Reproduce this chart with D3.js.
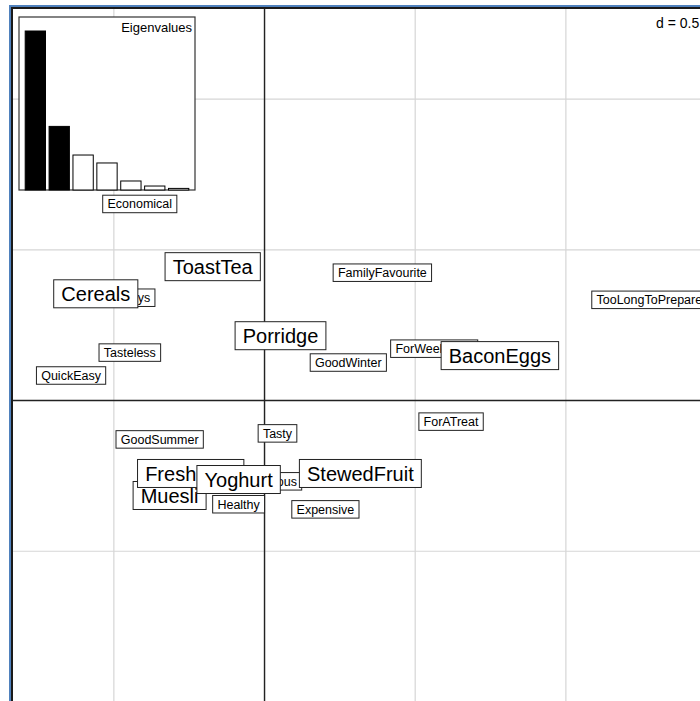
<!DOCTYPE html>
<html>
<head>
<meta charset="utf-8">
<script src="https://cdn.jsdelivr.net/npm/d3@7"></script>
<style>
  body { margin: 0; background: #fff; }
  svg text { font-family: "Liberation Sans", Arial, sans-serif; fill: #000; }
</style>
</head>
<body>
<div id="chart"></div>
<script>
// column (attribute) coordinates, drawn first with small labels
const colNames = ['Economical', 'FamilyFavourite', 'TooLongToPrepare', 'ForWeekdays', 'ForWeekends',
  'Tasteless', 'QuickEasy', 'GoodWinter', 'ForATreat', 'GoodSummer', 'Tasty', 'Nutritious',
  'Healthy', 'Expensive'];
const colX = [-0.414, 0.391, 1.277, -0.507, 0.563, -0.447, -0.642, 0.278, 0.619, -0.348, 0.043, 0.020, -0.086, 0.202];
const colY = [0.652, 0.424, 0.334, 0.341, 0.172, 0.159, 0.083, 0.126, -0.070, -0.129, -0.109, -0.268, -0.344, -0.361];

// row (breakfast) coordinates, drawn on top with large labels
const rowNames = ['ToastTea', 'Cereals', 'Porridge', 'BaconEggs', 'Muesli', 'FreshFruit', 'Yoghurt', 'StewedFruit'];
const rowX = [-0.172, -0.560, 0.053, 0.781, -0.315, -0.245, -0.086, 0.318];
const rowY = [0.444, 0.354, 0.215, 0.149, -0.315, -0.242, -0.262, -0.242];

const eigenvalues = [0.300, 0.120, 0.066, 0.051, 0.017, 0.0075, 0.003];
const gridStep = 0.5;

const width = 700;
const height = 701;

const svg = d3.select('#chart').append('svg')
  .attr('width', width)
  .attr('height', height);

// plot frame runs past the window on the right and bottom
const frame = { left: 12, top: 8, right: 706, bottom: 712 };

const x = d3.scaleLinear()
  .domain([-0.838, 1.465])
  .range([frame.left, frame.right]);

const y = d3.scaleLinear()
  .domain([1.302, -1.0])
  .range([frame.top, frame.top + (x(1.465) - x(-0.838))]);

const [x0, x1] = x.domain();
const [y0, y1] = y.domain();

// grid
const gx = d3.range(Math.ceil(x0 / gridStep) * gridStep, x1, gridStep);
const gy = d3.range(Math.ceil(y1 / gridStep) * gridStep, y0, gridStep);

svg.append('g')
  .selectAll('line')
  .data(gx)
  .join('line')
  .attr('x1', (d) => x(d)).attr('x2', (d) => x(d))
  .attr('y1', frame.top).attr('y2', frame.bottom)
  .attr('stroke', '#d6d6d6')
  .attr('stroke-width', 1.2);

svg.append('g')
  .selectAll('line')
  .data(gy)
  .join('line')
  .attr('y1', (d) => y(d)).attr('y2', (d) => y(d))
  .attr('x1', frame.left).attr('x2', frame.right)
  .attr('stroke', '#d6d6d6')
  .attr('stroke-width', 1.2);

// axes through the origin
svg.append('line')
  .attr('x1', x(0)).attr('x2', x(0))
  .attr('y1', frame.top).attr('y2', frame.bottom)
  .attr('stroke', '#222').attr('stroke-width', 1.4);
svg.append('line')
  .attr('y1', y(0)).attr('y2', y(0))
  .attr('x1', frame.left).attr('x2', frame.right)
  .attr('stroke', '#222').attr('stroke-width', 1.4);

// d = 0.5
svg.append('text')
  .attr('x', 656)
  .attr('y', 28)
  .attr('font-size', 14)
  .text(`d = ${gridStep}`);

function drawLabels(names, xs, ys, fontSize, cls) {
  const g = svg.append('g').attr('class', cls);
  names.forEach((name, i) => {
    const cx = x(xs[i]);
    const cy = y(ys[i]);
    const item = g.append('g');
    const rect = item.append('rect');
    const txt = item.append('text')
      .attr('x', cx)
      .attr('y', cy)
      .attr('text-anchor', 'middle')
      .attr('dy', '0.36em')
      .attr('font-size', fontSize)
      .text(name);
    const w = txt.node().getComputedTextLength() + fontSize * 0.76;
    const h = fontSize * 1.4;
    rect.attr('x', cx - w / 2)
      .attr('y', cy - h / 2)
      .attr('width', w)
      .attr('height', h)
      .attr('fill', '#fff')
      .attr('stroke', '#222')
      .attr('stroke-width', 1);
  });
}

drawLabels(colNames, colX, colY, 12.5, 'col-labels');
drawLabels(rowNames, rowX, rowY, 20, 'row-labels');

// eigenvalue inset
const inset = { left: 19, top: 17, right: 195, bottom: 190 };
svg.append('rect')
  .attr('x', inset.left)
  .attr('y', inset.top)
  .attr('width', inset.right - inset.left)
  .attr('height', inset.bottom - inset.top)
  .attr('fill', '#fff')
  .attr('stroke', '#333')
  .attr('stroke-width', 1.2);

const ex = d3.scaleBand()
  .domain(d3.range(eigenvalues.length))
  .range([inset.left + 5, inset.right - 5])
  .paddingInner(0.15)
  .paddingOuter(0.05);

const ey = d3.scaleLinear()
  .domain([0, d3.max(eigenvalues)])
  .range([inset.bottom, 31]);

svg.append('g')
  .selectAll('rect')
  .data(eigenvalues)
  .join('rect')
  .attr('x', (d, i) => ex(i))
  .attr('y', (d) => ey(d))
  .attr('width', ex.bandwidth())
  .attr('height', (d) => inset.bottom - ey(d))
  .attr('fill', (d, i) => (i < 2 ? '#000' : '#fff'))
  .attr('stroke', '#000')
  .attr('stroke-width', 1);

svg.append('text')
  .attr('x', inset.right - 3)
  .attr('y', 32)
  .attr('text-anchor', 'end')
  .attr('font-size', 13)
  .text('Eigenvalues');

// frame, then the blue outline around it
svg.append('path')
  .attr('d', `M${frame.left},${frame.bottom}V${frame.top}H${frame.right + 10}`)
  .attr('fill', 'none')
  .attr('stroke', '#1a1a1a')
  .attr('stroke-width', 2);
svg.append('path')
  .attr('d', `M${frame.left - 2},${frame.bottom}V${frame.top - 2}H${frame.right + 10}`)
  .attr('fill', 'none')
  .attr('stroke', '#4f81bd')
  .attr('stroke-width', 2);
</script>
</body>
</html>
